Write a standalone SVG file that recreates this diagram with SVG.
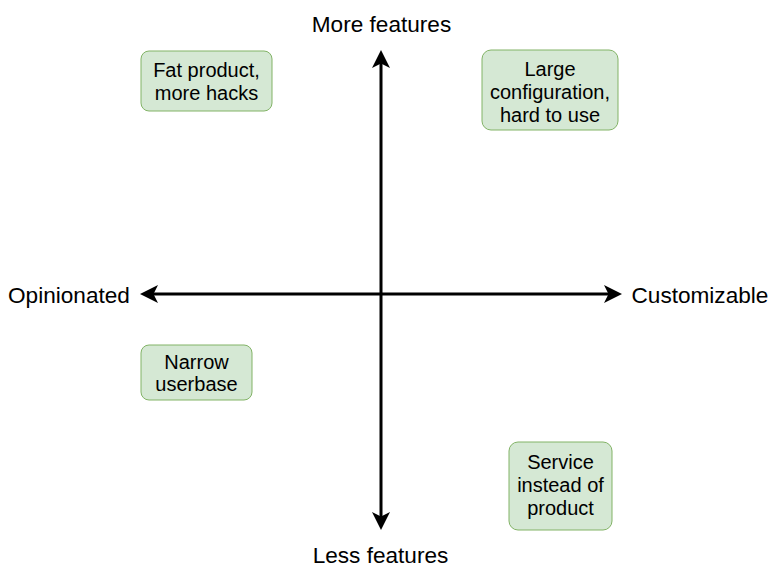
<svg xmlns="http://www.w3.org/2000/svg" width="772" height="581" viewBox="0 0 772 581">
<style>
.bg{fill:#ffffff}
.box{fill:#d5e8d4;stroke:#82b366;stroke-width:1}
.t{font-family:"Liberation Sans",Arial,Helvetica,sans-serif;font-size:20px;fill:#000000;text-anchor:middle}
.ax{font-family:"Liberation Sans",Arial,Helvetica,sans-serif;font-size:22.6px;fill:#000000}
.axis{stroke:#000000;stroke-width:3;fill:none}
</style>
<defs>
<marker id="arrow" markerUnits="userSpaceOnUse" viewBox="0 0 18 18" refX="8" refY="9" markerWidth="18" markerHeight="18" orient="auto-start-reverse">
<path d="M0,0 L18,9 L0,18 L4.5,9 Z" fill="#000000"/>
</marker>
</defs>
<rect class="bg" x="0" y="0" width="772" height="581"/>
<g id="connectors">
<line id="axis-vertical" class="axis" x1="381" y1="60" x2="381" y2="520" marker-start="url(#arrow)" marker-end="url(#arrow)"/>
<line id="axis-horizontal" class="axis" x1="150" y1="294" x2="612" y2="294" marker-start="url(#arrow)" marker-end="url(#arrow)"/>
</g>
<g id="label-more">
<text class="ax" x="381.5" y="32" text-anchor="middle">More features</text>
</g>
<g id="label-less">
<text class="ax" x="380.5" y="563" text-anchor="middle">Less features</text>
</g>
<g id="label-opinionated">
<text class="ax" x="8" y="302.5">Opinionated</text>
</g>
<g id="label-customizable">
<text class="ax" x="631.5" y="302.5">Customizable</text>
</g>
<g id="node-fat">
<rect class="box" x="141" y="51" width="131" height="60" rx="8" ry="8"/>
<text class="t" x="206.5" y="76.5">Fat product,</text>
<text class="t" x="206.5" y="100">more hacks</text>
</g>
<g id="node-large">
<rect class="box" x="482" y="50" width="136" height="80" rx="9" ry="9"/>
<text class="t" x="550" y="75.5">Large</text>
<text class="t" x="550" y="98.5">configuration,</text>
<text class="t" x="550" y="121.5">hard to use</text>
</g>
<g id="node-narrow">
<rect class="box" x="141" y="345" width="111" height="55" rx="8" ry="8"/>
<text class="t" x="196.5" y="368.5">Narrow</text>
<text class="t" x="196.5" y="391">userbase</text>
</g>
<g id="node-service">
<rect class="box" x="509" y="442" width="103" height="88" rx="9" ry="9"/>
<text class="t" x="560.5" y="468.5">Service</text>
<text class="t" x="560.5" y="491.5">instead of</text>
<text class="t" x="560.5" y="514.5">product</text>
</g>
</svg>
